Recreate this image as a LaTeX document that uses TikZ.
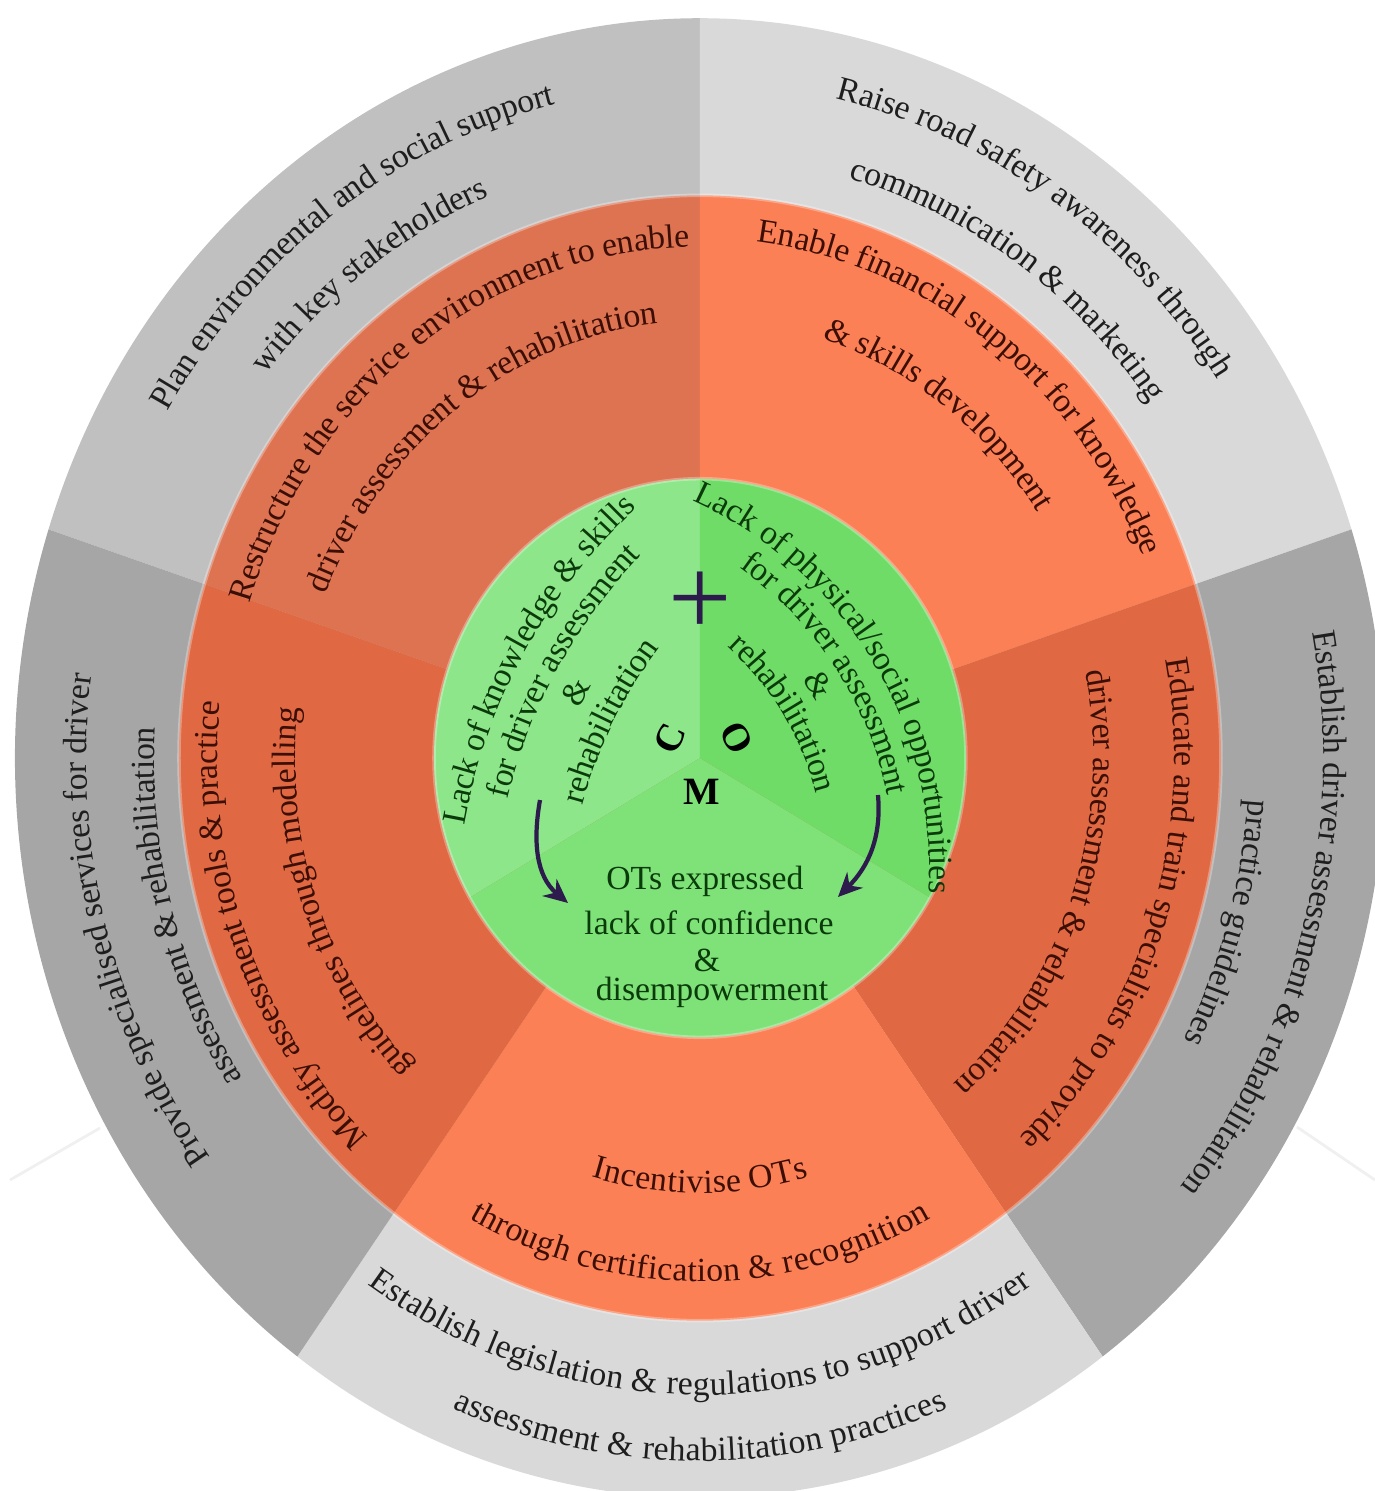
\documentclass[tikz,border=0pt]{standalone}
\usepackage{fontspec}
\setmainfont{Liberation Serif}
\usepackage{xcolor}
\usepackage{tikz}
\usetikzlibrary{positioning,arrows.meta,decorations.text}

\definecolor{grayMid}{HTML}{C0C0C0}
\definecolor{grayLight}{HTML}{D9D9D9}
\definecolor{grayDark}{HTML}{A6A6A6}
\definecolor{orgMid}{HTML}{DE7352}
\definecolor{orgLight}{HTML}{FC8056}
\definecolor{orgDark}{HTML}{E06842}
\definecolor{grnLeft}{HTML}{8EE68A}
\definecolor{grnRight}{HTML}{70DC68}
\definecolor{grnBottom}{HTML}{7EE278}
\definecolor{txtGray}{HTML}{1E1E1E}
\definecolor{txtOrg}{HTML}{3B0E06}
\definecolor{txtGrn}{HTML}{0B3B0B}
\definecolor{arrowInk}{HTML}{2D1B4E}

\newcommand{\graytxt}{\fontsize{9.6}{11}\selectfont\color{txtGray}}
\newcommand{\orgtxt}{\fontsize{9.6}{11}\selectfont\color{txtOrg}}
\newcommand{\grntxt}{\fontsize{9.6}{11}\selectfont\color{txtGrn}}

\begin{document}
\begin{tikzpicture}[
  ringtext/.style={decorate, decoration={text along path, text align=center, raise=-3pt, text={#1}}},
  grnlabel/.style={font=\grntxt, inner sep=0pt, anchor=base},
  letter/.style={font=\fontsize{11}{11}\selectfont\bfseries, inner sep=0pt},
  flowarr/.style={-{Stealth[length=2.4mm, width=2.2mm]}, line width=1.2pt, draw=arrowInk},
  faintline/.style={draw=gray!12, line width=0.8pt}
]
\useasboundingbox (-7,-7.33) rectangle (6.75,7.58);
\clip (-7,-7.33) rectangle (6.75,7.58);

% faint marks outside the circle
\coordinate (fl1) at (-6.90,-4.22);
\coordinate (fl2) at (-6.00,-3.70);
\coordinate (fr1) at (5.97,-3.69);
\coordinate (fr2) at (6.75,-4.22);
\draw[faintline] (fl1) -- (fl2);
\draw[faintline] (fr1) -- (fr2);

\begin{scope}[yscale=1.08]
% outer grey ring
\fill[grayMid] (0,0) -- (90:6.85) arc[start angle=90, end angle=162, radius=6.85] -- cycle;
\fill[grayLight] (0,0) -- (18:6.85) arc[start angle=18, end angle=90, radius=6.85] -- cycle;
\fill[grayDark] (0,0) -- (-54:6.85) arc[start angle=-54, end angle=18, radius=6.85] -- cycle;
\fill[grayLight] (0,0) -- (-126:6.85) arc[start angle=-126, end angle=-54, radius=6.85] -- cycle;
\fill[grayDark] (0,0) -- (162:6.85) arc[start angle=162, end angle=234, radius=6.85] -- cycle;
% orange ring
\fill[orgMid] (0,0) -- (90:5.21) arc[start angle=90, end angle=162, radius=5.21] -- cycle;
\fill[orgLight] (0,0) -- (18:5.21) arc[start angle=18, end angle=90, radius=5.21] -- cycle;
\fill[orgDark] (0,0) -- (-54:5.21) arc[start angle=-54, end angle=18, radius=5.21] -- cycle;
\fill[orgLight] (0,0) -- (-126:5.21) arc[start angle=-126, end angle=-54, radius=5.21] -- cycle;
\fill[orgDark] (0,0) -- (162:5.21) arc[start angle=162, end angle=234, radius=5.21] -- cycle;
\draw[white, opacity=0.3, line width=1pt] (0,0) circle[radius=5.21];

% grey ring texts
\path[ringtext={|\graytxt|Plan environmental and social support}] (185:6.32) arc[start angle=185, end angle=65, radius=6.32];
\path[ringtext={|\graytxt|with key stakeholders}] (185:5.71) arc[start angle=185, end angle=65, radius=5.71];
\path[ringtext={|\graytxt|Raise road safety awareness through}] (117:6.35) arc[start angle=117, end angle=-3, radius=6.35];
\path[ringtext={|\graytxt|communication {\&} marketing}] (116.6:5.67) arc[start angle=116.6, end angle=-3.4, radius=5.67];
\path[ringtext={|\graytxt|Establish driver assessment {\&} rehabilitation}] (45:6.34) arc[start angle=45, end angle=-75, radius=6.34];
\path[ringtext={|\graytxt|practice guidelines}] (43:5.60) arc[start angle=43, end angle=-77, radius=5.60];
\path[ringtext={|\graytxt|Establish legislation {\&} regulations to support driver}] (210:5.80) arc[start angle=210, end angle=330, radius=5.80];
\path[ringtext={|\graytxt|assessment {\&} rehabilitation practices}] (210:6.41) arc[start angle=210, end angle=330, radius=6.41];
\path[ringtext={|\graytxt|Provide specialised services for driver}] (255.6:6.24) arc[start angle=255.6, end angle=135.6, radius=6.24];
\path[ringtext={|\graytxt|assessment {\&} rehabilitation}] (255.7:5.56) arc[start angle=255.7, end angle=135.7, radius=5.56];

% orange ring texts
\path[ringtext={|\orgtxt|Restructure the service environment to enable}] (186:4.83) arc[start angle=186, end angle=66, radius=4.83];
\path[ringtext={|\orgtxt|driver assessment {\&} rehabilitation}] (186:4.14) arc[start angle=186, end angle=66, radius=4.14];
\path[ringtext={|\orgtxt|Enable financial support for knowledge}] (114:4.91) arc[start angle=114, end angle=-6, radius=4.91];
\path[ringtext={|\orgtxt|{\&} skills development}] (114.5:4.17) arc[start angle=114.5, end angle=-5.5, radius=4.17];
\path[ringtext={|\orgtxt|Educate and train specialists to provide}] (41:4.85) arc[start angle=41, end angle=-79, radius=4.85];
\path[ringtext={|\orgtxt|driver assessment {\&} rehabilitation}] (40.3:4.04) arc[start angle=40.3, end angle=-79.7, radius=4.04];
\path[ringtext={|\orgtxt|Incentivise OTs}] (210:3.93) arc[start angle=210, end angle=330, radius=3.93];
\path[ringtext={|\orgtxt|through certification {\&} recognition}] (210:4.75) arc[start angle=210, end angle=330, radius=4.75];
\path[ringtext={|\orgtxt|Modify assessment tools {\&} practice}] (261:4.93) arc[start angle=261, end angle=141, radius=4.93];
\path[ringtext={|\orgtxt|guidelines through modelling}] (260:4.15) arc[start angle=260, end angle=140, radius=4.15];
\end{scope}

% green core
\begin{scope}[yscale=1.05]
\fill[grnLeft] (0,0) -- (90:2.66) arc[start angle=90, end angle=210, radius=2.66] -- cycle;
\fill[grnBottom] (0,0) -- (210:2.66) arc[start angle=210, end angle=330, radius=2.66] -- cycle;
\fill[grnRight] (0,0) -- (-30:2.66) arc[start angle=-30, end angle=90, radius=2.66] -- cycle;
\draw[white, opacity=0.3, line width=1pt] (0,0) circle[radius=2.66];
\end{scope}

% green texts, left part
\path[ringtext={|\grntxt|Lack of knowledge {\&} skills}, shift={(3.26,-1.67)}] (191.5:5.81) arc[start angle=191.5, end angle=111.5, radius=5.81];
\path[ringtext={|\grntxt|for driver assessment}, shift={(3.26,-1.67)}] (191.3:5.44) arc[start angle=191.3, end angle=111.3, radius=5.44];
\path[ringtext={|\grntxt|{\&}}, shift={(3.26,-1.67)}] (192.6:5.07) arc[start angle=192.6, end angle=112.6, radius=5.07];
\path[ringtext={|\grntxt|rehabilitation}, shift={(3.26,-1.67)}] (193.9:4.70) arc[start angle=193.9, end angle=113.9, radius=4.70];
% green texts, right part
\path[ringtext={|\grntxt|Lack of physical/social opportunities}, shift={(-1.72,-1.09)}] (81:4.12) arc[start angle=81, end angle=-19, radius=4.12];
\path[ringtext={|\grntxt|for driver assessment}, shift={(-1.72,-1.09)}] (83:3.77) arc[start angle=83, end angle=-17, radius=3.77];
\path[ringtext={|\grntxt|{\&}}, shift={(-1.72,-1.09)}] (82:3.43) arc[start angle=82, end angle=-18, radius=3.43];
\path[ringtext={|\grntxt|rehabilitation}, shift={(-1.72,-1.09)}] (81:3.08) arc[start angle=81, end angle=-19, radius=3.08];

% bottom green texts
\node[grnlabel] (ots) at (0.05,-1.31) {OTs expressed};
\node[grnlabel] (lackconf) at (0.09,-1.76) {lack of confidence};
\node[grnlabel] (amp) at (0.07,-2.13) {\&};
\node[grnlabel] (disemp) at (0.12,-2.42) {disempowerment};

% plus and letters
\node[font=\fontsize{32}{32}\selectfont, text=arrowInk, inner sep=0pt] (plus) at (0,1.54) {+};
\node[letter, rotate=65] (capC) at (-0.30,0.19) {C};
\node[letter, rotate=-62] (capO) at (0.37,0.20) {O};
\node[letter] (capM) at (0.02,-0.34) {M};

% curved arrows
\coordinate (cStart) at (-1.60,-0.42);
\coordinate (cEnd) at (-1.32,-1.45);
\coordinate (oStart) at (1.78,-0.37);
\coordinate (oEnd) at (1.38,-1.39);
\draw[flowarr] (cStart) to[out=-100, in=140] (cEnd);
\draw[flowarr] (oStart) to[out=-85, in=45] (oEnd);
\end{tikzpicture}
\end{document}
